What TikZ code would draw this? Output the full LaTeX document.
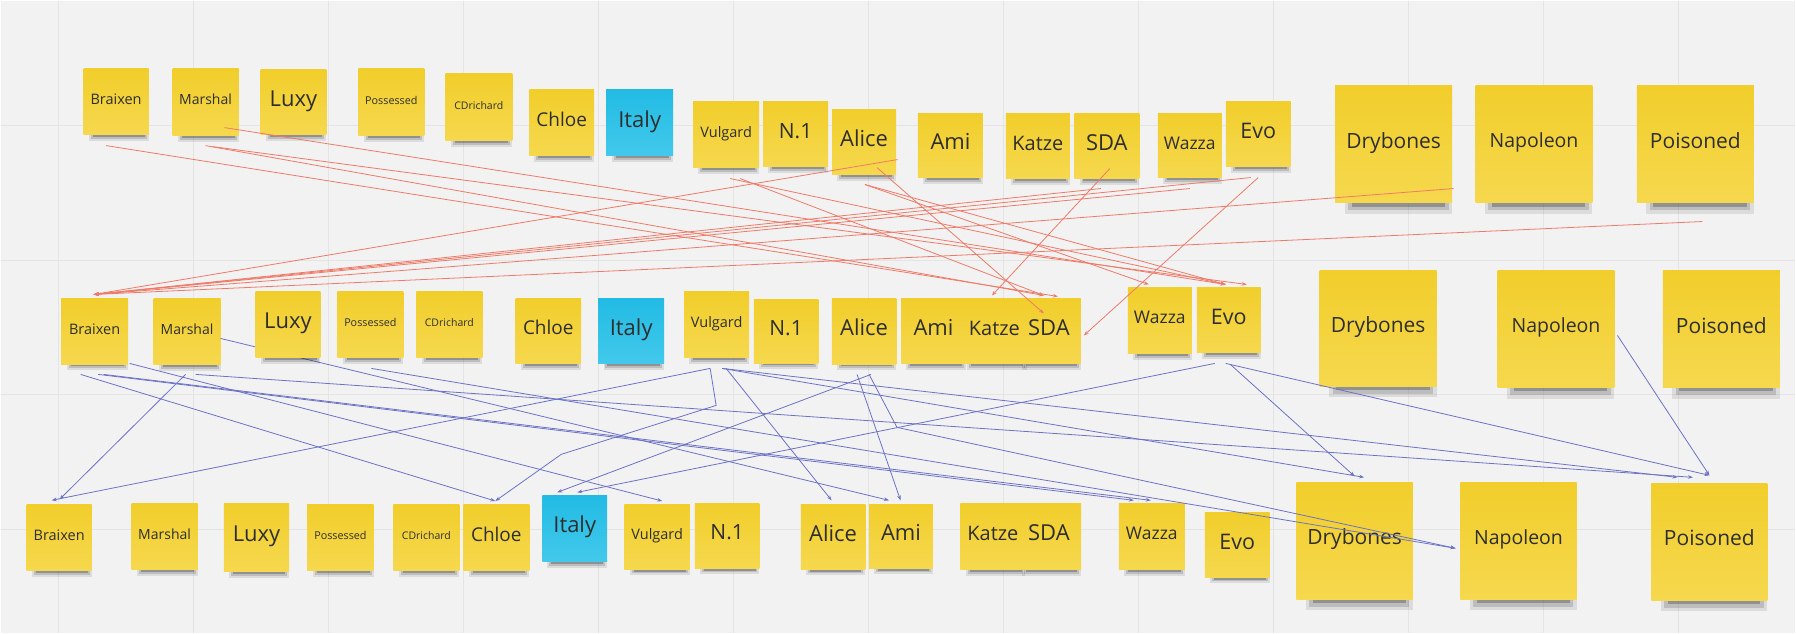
\documentclass[tikz,border=0pt]{standalone}
\usepackage{fontspec}
\setmainfont{Open Sans}
\usetikzlibrary{calc,arrows.meta}
\definecolor{bgc}{HTML}{F2F2F2}
\definecolor{gridc}{HTML}{E4E4E4}
\definecolor{ny1}{HTML}{F1CE2B}
\definecolor{ny2}{HTML}{F6D84E}
\definecolor{nb1}{HTML}{22BBE4}
\definecolor{nb2}{HTML}{42C9EB}
\definecolor{txt}{HTML}{2E2E2E}
\definecolor{redc}{HTML}{EF7A68}
\definecolor{bluec}{HTML}{6C72C6}
\definecolor{shc}{HTML}{202020}
\newcommand\sticky[8][note]{%
  \fill[shc, opacity=0.10] ({#3-#5/2+0.08*#5},{#4+#6/2-0.1*#6}) rectangle ({#3+#5/2},{#4+#6/2+0.095*#6});
  \fill[shc, opacity=0.16] ({#3-#5/2+0.11*#5},{#4+#6/2-0.1*#6}) rectangle ({#3+#5/2-0.03*#5},{#4+#6/2+0.065*#6});
  \fill[shc, opacity=0.28] ({#3-#5/2+0.14*#5},{#4+#6/2-0.1*#6}) rectangle ({#3+#5/2-0.06*#5},{#4+#6/2+0.035*#6});
  \node[#1, minimum width=#5pt, minimum height=#6pt, text height={0.4*#7}, text depth=0pt,
    font=\fontsize{#7}{#7}\selectfont] (#2) at (#3,#4) {#8};}
\begin{document}
\begin{tikzpicture}[x=1pt,y=-1pt,
  note/.style={rectangle, inner sep=0pt, top color=ny1, bottom color=ny2, text=txt, align=center},
  bluenote/.style={note, top color=nb1, bottom color=nb2},
  rl/.style={draw=redc, line width=0.8pt, -{Stealth[length=5pt,width=3.6pt]}},
  bl/.style={draw=bluec, line width=0.8pt, -{Stealth[length=5pt,width=3.6pt]}},
  gl/.style={draw=gridc, line width=1.4pt}]
\fill[bgc] (0,0) rectangle (1796,633);
\foreach \gx in {58,193.1,328.2,463.3,598.4,733.5,868.6,1003.7,1138.8,1273.9,1409,1544.1,1679.2}
  \draw[gl] (\gx,0) -- (\gx,633);
\foreach \gy in {125,259.7,394.4,529.1}
  \draw[gl] (0,\gy) -- (1796,\gy);
\useasboundingbox (0,0) rectangle (1796,633);
% row 1
\sticky{b1}{115.5}{101}{65}{66}{14.5}{Braixen}
\sticky{m1}{205}{101.5}{66}{67}{14}{Marshal}
\sticky{l1}{293}{101.5}{66}{65}{22}{Luxy}
\sticky{p1}{391}{101.5}{66}{67}{10.8}{Possessed}
\sticky{c1}{478.5}{106.5}{67}{67}{10.5}{CDrichard}
\sticky{ch1}{561.5}{122}{65}{66}{19}{Chloe}
\sticky[bluenote]{i1}{639.5}{122}{67}{66}{22}{Italy}
\sticky{v1}{726}{134}{66}{66}{14.5}{Vulgard}
\sticky{n1}{795.5}{133.5}{65}{65}{21}{N.1}
\sticky{a1}{864}{141.5}{64}{65}{22}{Alice}
\sticky{am1}{950.5}{145}{65}{64}{22}{Ami}
\sticky{k1}{1038}{145.5}{64}{65}{20}{Katze}
\sticky{s1}{1107}{145.5}{65}{65}{22}{SDA}
\sticky{w1}{1190}{145}{64}{64}{17.5}{Wazza}
\sticky{e1}{1258.5}{133.5}{65}{65}{21.5}{Evo}
\sticky{d1}{1394}{143.5}{117}{117}{21}{Drybones}
\sticky{np1}{1534.5}{143.5}{117}{117}{19.5}{Napoleon}
\sticky{po1}{1696}{143.5}{117}{117}{21}{Poisoned}
% row 2 (Luxy drawn later)
\sticky{b2}{94}{330.7}{67}{66}{14.5}{Braixen}
\sticky{m2}{186.5}{331}{67}{66}{14}{Marshal}
\sticky{p2}{370}{324}{66}{66}{10.8}{Possessed}
\sticky{c2}{449}{324}{66}{66}{10.5}{CDrichard}
\sticky{ch2}{548}{330.5}{65.5}{65}{19}{Chloe}
\sticky[bluenote]{i2}{631}{330.5}{66}{65}{22}{Italy}
\sticky{v2}{716.5}{324}{65}{66}{14.5}{Vulgard}
\sticky{n2}{786}{330.7}{64.5}{64}{21}{N.1}
\sticky{a2}{864}{331}{64.6}{65.3}{22}{Alice}
\sticky{am2}{933.5}{331}{65}{65}{22}{Ami}
\sticky{s2}{1049}{331}{64}{65}{22}{SDA}
\sticky{k2}{994.5}{331}{65}{65}{20}{Katze}
\sticky{w2}{1160}{320}{64}{66}{17.5}{Wazza}
\sticky{e2}{1229}{319.5}{64}{65}{21.5}{Evo}
\sticky{d2}{1378.5}{328}{117}{116}{21}{Drybones}
\sticky{np2}{1556.5}{328.5}{117}{117}{19.5}{Napoleon}
\sticky{po2}{1722}{328.5}{117}{117}{21}{Poisoned}
% row 3
\sticky{b3}{58.5}{537}{65}{66}{14.5}{Braixen}
\sticky{m3}{164}{536}{66}{66}{14}{Marshal}
\sticky{l3}{256}{537}{65.5}{68}{22}{Luxy}
\sticky{p3}{340}{537}{66.5}{66}{10.8}{Possessed}
\sticky{c3}{426}{537}{66}{66}{10.5}{CDrichard}
\sticky{ch3}{496}{537}{66}{66}{19}{Chloe}
\sticky[bluenote]{i3}{574.5}{528}{65}{66}{22}{Italy}
\sticky{v3}{657}{536.5}{65.5}{65}{14.5}{Vulgard}
\sticky{n3}{727}{535.5}{64.5}{65}{21}{N.1}
\sticky{a3}{833}{536.5}{64.5}{65}{22}{Alice}
\sticky{am3}{901}{536}{64}{64}{22}{Ami}
\sticky{s3}{1049}{536}{64.5}{66}{22}{SDA}
\sticky{k3}{993}{536}{65}{66}{20}{Katze}
\sticky{w3}{1152}{536}{66}{66}{17.5}{Wazza}
\sticky{e3}{1237.5}{544.5}{65}{65}{21.5}{Evo}
\sticky{d3}{1355}{540.5}{116.5}{117}{21}{Drybones}
\sticky{np3}{1519}{540.5}{116.5}{117}{19.5}{Napoleon}
\sticky{po3}{1710}{541.5}{116}{117}{21}{Poisoned}
% connector passing behind Luxy (row 2)
\draw[bl] ($(m2)+(33.5,7)$) -- ($(am3)+(-12,-36)$);
\sticky{l2}{287.5}{324}{65}{66}{22}{Luxy}
% red connectors (row 1 -> row 2)
\draw[rl] ($(a1)+(33.5,17.5)$) -- ($(b2)+(-1,-36.7)$);
\draw[rl] ($(s1)+(-6,42.5)$) -- ($(b2)+(-1,-36.7)$);
\draw[rl] ($(w1)+(0,43)$) -- ($(b2)+(-1,-36.7)$);
\draw[rl] ($(e1)+(-7.5,43.5)$) -- ($(b2)+(-1,-36.7)$);
\draw[rl] ($(d1)+(60,44.5)$) -- ($(b2)+(-1,-36.7)$);
\draw[rl] ($(po1)+(7,77.5)$) -- ($(b2)+(-1,-36.7)$);
\draw[rl] ($(s1)+(3,22.5)$) -- ($(k2)+(-2.5,-36)$);
\draw[rl] ($(a1)+(13,25.5)$) -- ($(s2)+(-5,-18)$);
\draw[rl] ($(e1)+(0,43.5)$) -- ($(s2)+(35,4)$);
\draw[rl] ($(b1)+(-10,44)$) -- ($(s2)+(9,-35)$);
\draw[rl] ($(m1)+(0,43.5)$) -- ($(s2)+(-5,-36)$);
\draw[rl] ($(m1)+(7,44.5)$) -- ($(e2)+(18,-35.5)$);
\draw[rl] ($(m1)+(19,25.5)$) -- ($(e2)+(-3,-35.5)$);
\draw[rl] ($(v1)+(4,44)$) -- ($(e2)+(-3,-35.5)$);
\draw[rl] ($(v1)+(14,44)$) -- ($(s2)+(-5,-36)$);
\draw[rl] ($(a1)+(1,42.5)$) -- ($(w2)+(-11,-36)$);
\draw[rl] ($(a1)+(1,42.5)$) -- ($(e2)+(-3,-35.5)$);
% blue connectors (row 2 -> row 3)
\draw[bl] ($(m2)+(-1.5,43)$) -- ($(b3)+(0.5,-38)$);
\draw[bl] ($(v2)+(-6.5,44)$) -- ($(b3)+(-7.5,-37)$);
\draw[bl] ($(b2)+(-14,43.3)$) -- ($(ch3)+(-1,-36.3)$);
\draw[bl] ($(v2)+(-6.5,44)$) -- ($(v2)+(-0.5,81)$) -- ($(v2)+(-155.5,130)$) -- ($(ch3)+(-1,-36.3)$);
\draw[bl] ($(a2)+(7,43)$) -- ($(i3)+(-17.5,-36)$);
\draw[bl] ($(e2)+(-14,43.5)$) -- ($(i3)+(2.5,-36)$);
\draw[bl] ($(b2)+(35,32.3)$) -- ($(v3)+(5,-35.8)$);
\draw[bl] ($(v2)+(9.5,44)$) -- ($(a3)+(-1.5,-36.5)$);
\draw[bl] ($(a2)+(-7,43)$) -- ($(am3)+(-0.5,-36)$);
\draw[bl] ($(b2)+(3.6,43.3)$) -- ($(w3)+(-18,-36)$);
\draw[bl] ($(b2)+(9,43.3)$) -- ($(w3)+(-1,-36)$);
\draw[bl] ($(e2)+(1.6,44.5)$) -- ($(d3)+(0,-64.5)$);
\draw[bl] ($(v2)+(5.5,44)$) -- ($(d3)+(9.5,-63.5)$);
\draw[bl] ($(a2)+(5,43)$) -- ($(a2)+(33,96)$) -- ($(np3)+(-63,7.5)$);
\draw[bl] ($(p2)+(1,44)$) -- ($(np3)+(-63,7.5)$);
\draw[bl] ($(v2)+(5.5,44)$) -- ($(po3)+(-32,-64.5)$);
\draw[bl] ($(m2)+(8.5,43)$) -- ($(po3)+(-16.5,-64.5)$);
\draw[bl] ($(e2)+(-3,43.5)$) -- ($(po3)+(0,-66.5)$);
\draw[bl] ($(np2)+(61.5,6.5)$) -- ($(po3)+(0,-66.5)$);
\end{tikzpicture}
\end{document}
